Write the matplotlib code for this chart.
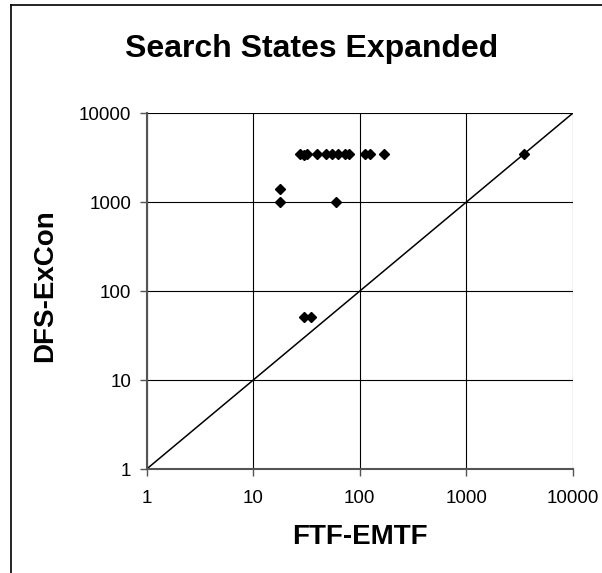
import matplotlib.pyplot as plt
from matplotlib.lines import Line2D
from matplotlib.ticker import FixedLocator, NullLocator

plt.rcParams['font.family'] = ['Liberation Sans', 'DejaVu Sans']

# search states expanded per problem: FTF-EMTF vs DFS-ExCon
ftf_emtf = [18, 18, 60, 30, 35,
            27.5, 30, 32, 39.5, 48, 55, 63, 73, 80, 112, 125, 170, 3500]
dfs_excon = [1000, 1400, 1000, 51, 51,
             3500, 3400, 3500, 3500, 3500, 3500, 3500, 3500, 3500, 3500, 3500, 3500, 3500]

decades = [1, 10, 100, 1000, 10000]
decade_labels = ['1', '10', '100', '1000', '10000']

fig = plt.figure(figsize=(6.02, 5.73), dpi=100)
ax = fig.add_axes([0.2437, 0.1815, 0.7076, 0.6208])

ax.set_xscale('log')
ax.set_yscale('log')
ax.set_xlim(1, 10000)
ax.set_ylim(1, 10000)

# equal-effort reference line
ax.plot([decades[0], decades[-1]], [decades[0], decades[-1]], color='black', lw=1.1, zorder=2)
ax.plot(ftf_emtf, dfs_excon, linestyle='none', marker='D', markersize=5,
        color='black', zorder=3)

for axis in (ax.xaxis, ax.yaxis):
    axis.set_major_locator(FixedLocator(decades))
    axis.set_minor_locator(NullLocator())
ax.set_xticklabels(decade_labels)
ax.set_yticklabels(decade_labels)

ax.grid(True, which='major', color='black', lw=0.8)
ax.set_axisbelow(True)
for side in ('top', 'right'):
    ax.spines[side].set_visible(False)
for side in ('left', 'bottom'):
    ax.spines[side].set_color('#555555')
    ax.spines[side].set_linewidth(1.5)

ax.tick_params(axis='x', direction='out', length=5, width=1, color='#555555',
               labelsize=13.5, pad=10)
ax.tick_params(axis='y', direction='out', length=5, width=1, color='#555555',
               labelsize=13.5, pad=6)

fig.text(0.518, 0.914, 'Search States Expanded', ha='center', va='center',
         fontsize=23, fontweight='bold')
fig.text(0.598, 0.063, 'FTF-EMTF', ha='center', va='center',
         fontsize=20, fontweight='bold')
fig.text(0.075, 0.502, 'DFS-ExCon', ha='center', va='center', rotation=90,
         fontsize=20, fontweight='bold')

# outer chart frame (left and top edges)
fig.add_artist(Line2D([11 / 602, 11 / 602], [0, 1 - 4.7 / 573],
                      color='black', lw=1.2, transform=fig.transFigure))
fig.add_artist(Line2D([11 / 602, 1], [1 - 4.7 / 573, 1 - 4.7 / 573],
                      color='black', lw=1.2, transform=fig.transFigure))

fig.savefig('out.png', dpi=100, facecolor='white')
